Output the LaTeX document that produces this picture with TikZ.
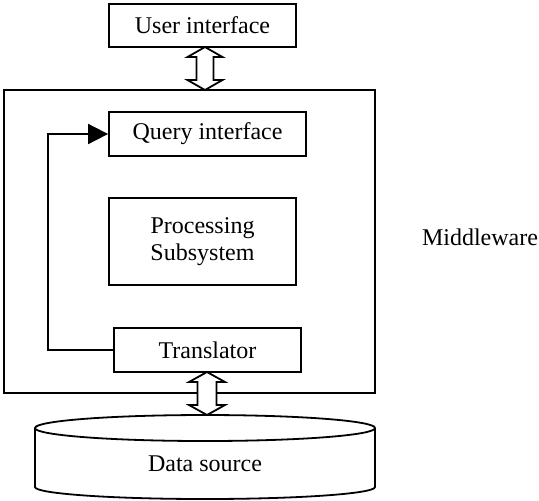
\documentclass[tikz,border=0pt]{standalone}
\usepackage{fontspec}
\setmainfont{Liberation Serif}
\newfontfamily\timesfont{Liberation Serif}
\usetikzlibrary{arrows.meta,calc}
\begin{document}
\begin{tikzpicture}[x=0.5pt,y=-0.5pt,
  line width=0.9pt,
  every node/.style={font=\timesfont\fontsize{12pt}{13.5pt}\selectfont},
  boxnode/.style={draw,inner sep=0pt,align=center},
  dblarrow/.style={draw,line join=miter,fill=white}]
\useasboundingbox (0,0) rectangle (539,500);
% middleware box
\node[boxnode,minimum width=185.5pt,minimum height=151.5pt] (mw) at (189.5,241.5) {};
\node (mwl) at (480,237) {Middleware};
% inner boxes
\node[boxnode,minimum width=93.5pt,minimum height=21.5pt] (ui) at (202.5,25.5) {User interface};
\node[boxnode,minimum width=98.5pt,minimum height=22pt] (qi) at (207.5,134) {Query interface};
\node[boxnode,minimum width=93.5pt,minimum height=43.5pt] (ps) at (202.5,241.5) {Processing\\Subsystem};
\node[boxnode,minimum width=93.5pt,minimum height=22pt] (tr) at (207.5,350) {Translator};
% feedback connector
\coordinate (fb) at (48,350);
\draw[-{Triangle[length=10pt,width=10pt]}] (tr.west) -- (fb) |- (qi.west);
% top double arrow
\coordinate (t1) at (205,47);
\coordinate (b1) at (205,90);
\path[dblarrow] (t1) -- ($(t1)+(17.5,10)$) -- ($(t1)+(8.5,10)$) -- ($(b1)+(8.5,-10)$) -- ($(b1)+(17.5,-10)$) -- (b1)
  -- ($(b1)+(-17.5,-10)$) -- ($(b1)+(-8.5,-10)$) -- ($(t1)+(-8.5,10)$) -- ($(t1)+(-17.5,10)$) -- cycle;
% cylinder
\node (ds) at (205,464) {Data source};
\draw (35,428) -- (35,487) .. controls (35,493.6) and (111.2,499) .. (205,499)
  .. controls (298.8,499) and (375,493.6) .. (375,487) -- (375,428);
\draw[fill=white] (35,428) .. controls (35,420.8) and (111.2,415) .. (205,415)
  .. controls (298.8,415) and (375,420.8) .. (375,428)
  .. controls (375,435.2) and (298.8,441) .. (205,441)
  .. controls (111.2,441) and (35,435.2) .. (35,428) -- cycle;
% bottom double arrow
\coordinate (t2) at (207,372);
\coordinate (b2) at (207,415);
\path[dblarrow] (t2) -- ($(t2)+(18,10)$) -- ($(t2)+(9.5,10)$) -- ($(b2)+(9.5,-10)$) -- ($(b2)+(18,-10)$) -- (b2)
  -- ($(b2)+(-18,-10)$) -- ($(b2)+(-9.5,-10)$) -- ($(t2)+(-9.5,10)$) -- ($(t2)+(-18,10)$) -- cycle;
\end{tikzpicture}
\end{document}
